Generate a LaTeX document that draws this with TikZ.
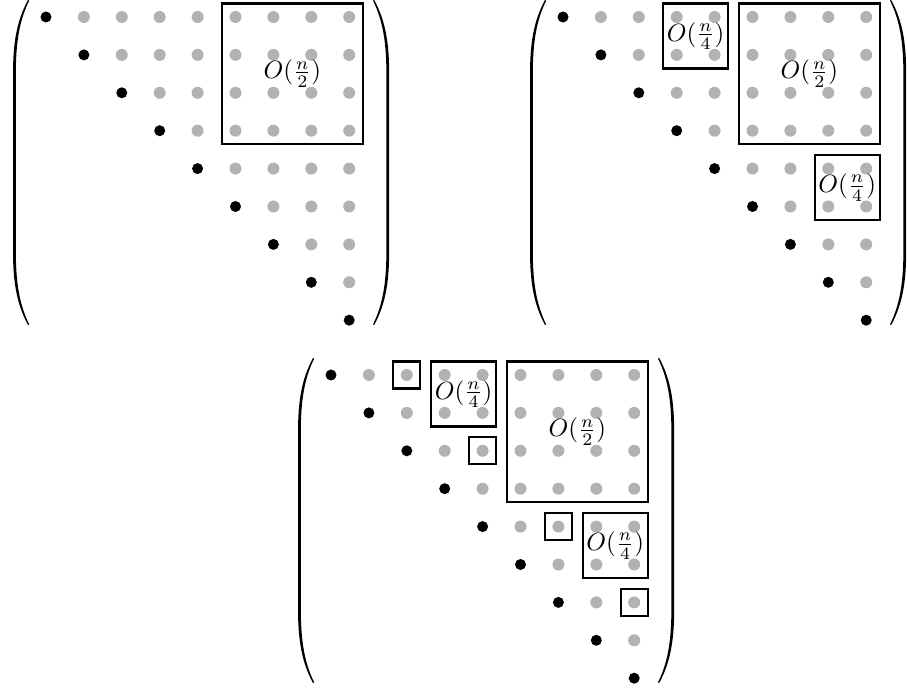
\documentclass[tikz,border=0pt]{standalone}
\usetikzlibrary{fit}
\tikzset{
  diagdot/.style={circle,fill=black,inner sep=0pt,minimum size=4.4pt},
  offdot/.style={circle,fill=black!30,inner sep=0pt,minimum size=4.8pt},
  blockbox/.style={draw,line width=0.9pt,inner sep=2.8pt},
  blocklabel/.style={inner sep=0pt},
  lpar/.pic={
    \fill (15,0) .. controls (3,22) and (0,45) .. (0,75) -- (0,250)
      .. controls (0,280) and (3,303) .. (15,325) -- (16.2,324.4)
      .. controls (5.6,303) and (2.8,280) .. (2.8,250) -- (2.8,75)
      .. controls (2.8,45) and (5.6,22) .. (16.2,0.6) -- cycle;
  }
}

\begin{document}
\begin{tikzpicture}[x=0.4pt,y=-0.4pt]
  \useasboundingbox (0,0) rectangle (907,690);
  % the three upper triangular matrices
  \foreach \m/\mx/\my in {A/46/17,B/563/17,C/331/375}{
    \foreach \r in {1,...,9}
      \node[diagdot] (\m-\r-\r) at ({\mx+37.9*(\r-1)},{\my+37.9*(\r-1)}) {};
    \foreach \r in {1,...,8}{
      \pgfmathtruncatemacro\cs{\r+1}
      \foreach \c in {\cs,...,9}
        \node[offdot] (\m-\r-\c) at ({\mx+37.9*(\c-1)},{\my+37.9*(\r-1)}) {};
    }
    \pic at ({\mx-33},{\my-17}) {lpar};
    \pic[xscale=-1] at ({\mx+303.2+40},{\my-17}) {lpar};
  }

  % first step
  \node[blockbox,fit=(A-1-6)(A-4-9)] (Ahalf) {};
  \node[blocklabel] (Ahalflabel) at (Ahalf) {$O(\frac{n}{2})$};

  % second step
  \node[blockbox,fit=(B-1-4)(B-2-5)] (Bquarter1) {};
  \node[blockbox,fit=(B-1-6)(B-4-9)] (Bhalf) {};
  \node[blockbox,fit=(B-5-8)(B-6-9)] (Bquarter2) {};
  \node[blocklabel] (Bquarter1label) at (Bquarter1) {$O(\frac{n}{4})$};
  \node[blocklabel] (Bhalflabel) at (Bhalf) {$O(\frac{n}{2})$};
  \node[blocklabel] (Bquarter2label) at (Bquarter2) {$O(\frac{n}{4})$};

  % third step
  \node[blockbox,fit=(C-1-3)] (Ceighth1) {};
  \node[blockbox,fit=(C-1-4)(C-2-5)] (Cquarter1) {};
  \node[blockbox,fit=(C-1-6)(C-4-9)] (Chalf) {};
  \node[blockbox,fit=(C-3-5)] (Ceighth2) {};
  \node[blockbox,fit=(C-5-7)] (Ceighth3) {};
  \node[blockbox,fit=(C-5-8)(C-6-9)] (Cquarter2) {};
  \node[blockbox,fit=(C-7-9)] (Ceighth4) {};
  \node[blocklabel] (Cquarter1label) at (Cquarter1) {$O(\frac{n}{4})$};
  \node[blocklabel] (Chalflabel) at (Chalf) {$O(\frac{n}{2})$};
  \node[blocklabel] (Cquarter2label) at (Cquarter2) {$O(\frac{n}{4})$};
\end{tikzpicture}
\end{document}
